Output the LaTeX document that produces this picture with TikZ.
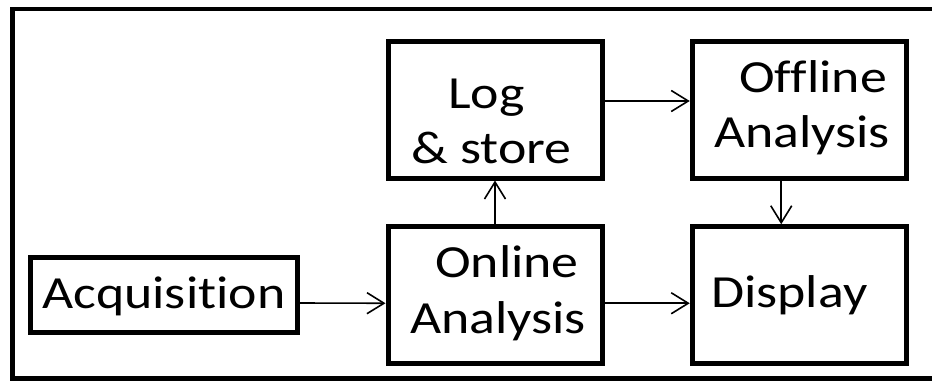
\documentclass[tikz,border=0pt]{standalone}
\usepackage{fontspec}
\setmainfont{Carlito}[FakeStretch=1.17, Ligatures=NoCommon]
\usetikzlibrary{arrows.meta}
\begin{document}
\begin{tikzpicture}[x=1pt,y=-1pt,
  block/.style={draw, line width=5pt, minimum width=214pt, minimum height=137pt, inner sep=0pt},
  lbl/.style={anchor=base west, inner sep=0pt, font=\fontsize{46}{55}\selectfont},
  flow/.style={line width=1.6pt, -{Straight Barb[length=17pt,width=21pt]}}]
  \useasboundingbox (0,0) rectangle (932,381);
  \begin{scope}
    \clip (0,0) rectangle (932,381);
    \draw[line width=4.5pt] (12.5,9) rectangle (950,378.5);
  \end{scope}

  % boxes
  \node[block, minimum width=267.5pt, minimum height=75pt] (acq) at (163.75,295) {};
  \node[block] (log) at (495,109.5) {};
  \node[block] (online) at (495,295.25) {};
  \node[block] (offline) at (799.25,109.5) {};
  \node[block] (display) at (799.25,295.25) {};

  % labels
  \node[lbl] (tacq) at (42,308) {Acquisition};
  \node[lbl] (tlog1) at (448,108) {Log};
  \node[lbl] (tlog2) at (411,163) {\& store};
  \node[lbl] (toff1) at (739,92) {Offline};
  \node[lbl] (toff2) at (714,147) {Analysis};
  \node[lbl] (ton1) at (435,277) {Online};
  \node[lbl] (ton2) at (410,333) {Analysis};
  \node[lbl] (tdisp) at (711,307) {Display};

  % connectors
  \draw[flow] ([yshift=-8pt]acq.east) -- ([yshift=-8pt]online.west);
  \draw[flow] ([yshift=-8pt]online.east) -- ([yshift=-8pt]display.west);
  \draw[flow] ([yshift=8.5pt]log.east) -- ([yshift=8.5pt]offline.west);
  \draw[flow] (online.north) -- (log.south);
  \draw[flow] ([xshift=-18pt]offline.south) -- ([xshift=-18pt]display.north);
\end{tikzpicture}
\end{document}
